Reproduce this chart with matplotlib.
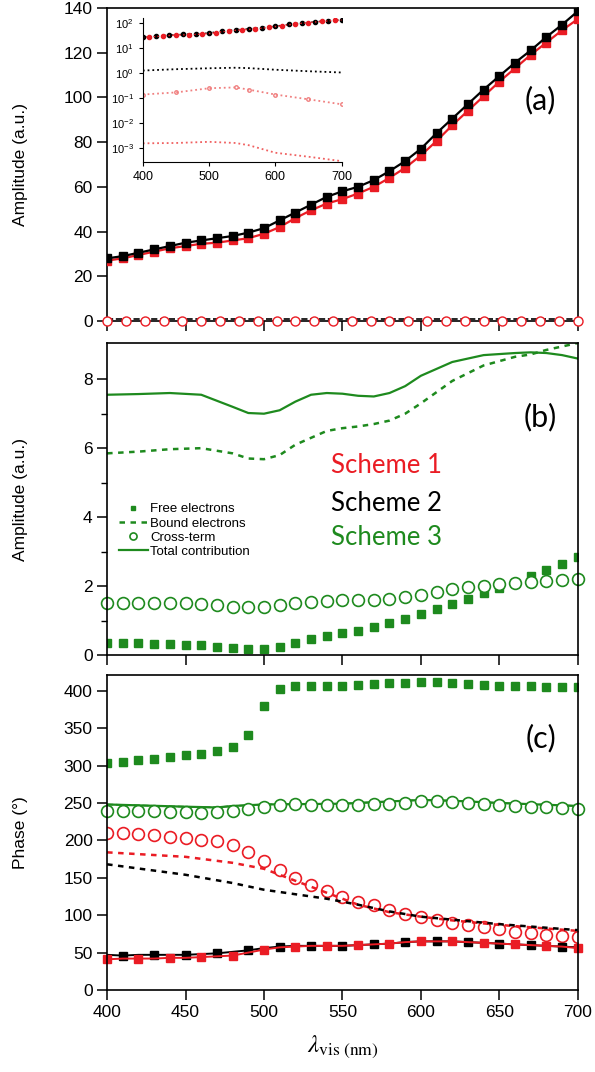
import matplotlib.pyplot as plt
import numpy as np

plt.rcParams['font.family'] = ['Liberation Sans', 'DejaVu Sans']
plt.rcParams['mathtext.fontset'] = 'stix'

RED = '#ea1c24'
GREEN = '#1e8a1e'

wl = np.arange(400, 701, 10)

# ---- panel (a): amplitudes, schemes 1 and 2
amp_s2_total = [28, 29, 30.5, 32, 33.5, 35, 36, 37, 38, 39.5, 41.5, 45, 48.5, 52, 55.5, 58,
                60, 63, 67, 71.5, 77, 84, 90.5, 97, 103.5, 109.5, 115.5, 121, 127, 132.5, 138.5]
amp_s1_total = [27, 28, 29.5, 31, 32.5, 33.5, 34.5, 35, 36, 37, 39, 42, 46, 49.5, 52.5, 54.5,
                57, 60, 64, 68.5, 74, 80.5, 87.5, 94, 100.5, 107, 113, 119, 124.5, 130, 135]
wl_low = [400, 412, 424, 436, 448, 460, 472, 484, 496, 508, 520, 532, 544, 556, 568, 580, 592,
          604, 616, 628, 640, 652, 664, 676, 688, 700]
amp_s1_cross = [0.15] * 26

# inset (log)
ins_wl = [400, 450, 500, 540, 560, 600, 650, 700]
ins_s2_bound = [1.28, 1.45, 1.58, 1.66, 1.6, 1.38, 1.2, 1.07]
ins_s1_cross = [0.14, 0.17, 0.25, 0.27, 0.22, 0.14, 0.09, 0.057]
ins_s1_bound = [1.55e-3, 1.6e-3, 1.78e-3, 1.6e-3, 1.3e-3, 6.5e-4, 4.5e-4, 3e-4]

# ---- panel (b): scheme 3 amplitudes
b_wl = [400, 420, 440, 460, 480, 490, 500, 510, 520, 530, 540, 550, 560, 570, 580, 590, 600,
        620, 640, 660, 670, 680, 690, 700]
amp_s3_total = [7.55, 7.57, 7.6, 7.55, 7.2, 7.02, 7.0, 7.1, 7.35, 7.55, 7.6, 7.58, 7.52, 7.5,
                7.6, 7.8, 8.1, 8.5, 8.7, 8.76, 8.78, 8.76, 8.7, 8.6]
amp_s3_bound = [5.85, 5.9, 5.97, 6.0, 5.85, 5.7, 5.68, 5.8, 6.1, 6.3, 6.5, 6.58, 6.63, 6.7,
                6.8, 7.0, 7.3, 7.95, 8.4, 8.65, 8.72, 8.85, 8.95, 9.05]
amp_s3_free = [0.34, 0.34, 0.34, 0.33, 0.32, 0.3, 0.28, 0.24, 0.2, 0.16, 0.16, 0.24, 0.34, 0.45,
               0.56, 0.63, 0.71, 0.82, 0.94, 1.05, 1.19, 1.32, 1.47, 1.63, 1.79, 1.95, 2.1, 2.3,
               2.47, 2.64, 2.83]
amp_s3_cross = [1.52, 1.52, 1.52, 1.52, 1.5, 1.5, 1.48, 1.45, 1.4, 1.38, 1.38, 1.45, 1.5, 1.55,
                1.58, 1.6, 1.6, 1.6, 1.62, 1.67, 1.75, 1.82, 1.9, 1.96, 2.0, 2.05, 2.1, 2.13,
                2.16, 2.18, 2.2]

# ---- panel (c): phases
ph_s3_free = [303, 305, 307, 309, 312, 314, 316, 319, 325, 341, 380, 402, 406, 407, 407, 407,
              408, 409, 410, 411, 412, 412, 410, 409, 408, 407, 407, 406, 405, 405, 405]
c_wl = [400, 450, 470, 480, 500, 550, 600, 620, 650, 700]
ph_s3_total = [248, 245, 244, 246, 248, 249, 254, 253, 250, 246]
ph_s3_cross = [239, 239, 239, 239, 238, 238, 237, 238, 239, 242, 245, 247, 248, 247, 247, 247,
               247, 248, 249, 250, 252, 252, 251, 250, 248, 247, 246, 245, 244, 243, 242]
ph_s1_cross = [210, 210, 208, 207, 205, 203, 201, 199, 194, 185, 173, 160, 150, 140, 132, 124,
               118, 113, 107, 102, 98, 94, 90, 87, 84, 81, 78, 76, 74, 72, 71]
bnd_wl = [400, 450, 480, 500, 520, 540, 560, 580, 600, 620, 650, 700]
ph_s1_bound = [184, 178, 170, 162, 146, 130, 114, 104, 98, 93, 87, 79]
ph_s2_bound = [168, 154, 143, 134, 128, 122, 114, 105, 98, 94, 88, 80]
ph_s2_free = [47, 46, 47, 47, 47, 47, 48, 49, 51, 53, 56, 58, 59, 59, 59, 59, 60, 61, 62, 64,
              65, 65, 65, 64, 63, 62, 61, 60, 59, 58, 57]
ph_s1_free = [41, 42, 42, 42, 43, 43, 44, 45, 46, 50, 54, 57, 58, 59, 59, 59, 60, 61, 62, 64,
              65, 65, 65, 64, 63, 62, 61, 60, 59, 58, 56]

fig = plt.figure(figsize=(5.95, 10.72), dpi=100)
L, W = 0.180, 0.791
ax1 = fig.add_axes([L, 0.7006, W, 0.292])
ax2 = fig.add_axes([L, 0.389, W, 0.291])
ax3 = fig.add_axes([L, 0.0765, W, 0.2938])

for ax in (ax1, ax2, ax3):
    ax.set_xlim(400, 700)
    ax.set_xticks(np.arange(400, 701, 50))
    ax.tick_params(direction='out', length=7, width=1.1, labelsize=12.5)
    for s in ax.spines.values():
        s.set_linewidth(1.2)
    ax.yaxis.set_label_coords(-0.168, 0.5)

panel_font = ['Lato', 'DejaVu Sans']

# (a)
ax1.plot(wl, amp_s2_total, '-s', color='black', ms=6, lw=1.6, zorder=4)
ax1.plot(wl, amp_s1_total, '-s', color=RED, ms=6, lw=1.6, zorder=3)
ax1.plot(wl_low, amp_s1_cross, 'o', mfc='white', mec=RED, ms=6.5, mew=1, clip_on=False, zorder=5)
ax1.plot(wl, [1.0] * len(wl), '--', color='black', lw=1.2, clip_on=False)
ax1.set_ylim(0, 140)
ax1.set_yticks(np.arange(0, 141, 20))
ax1.set_xticklabels([])
ax1.set_ylabel('Amplitude (a.u.)', fontsize=12.5)
ax1.text(0.921, 0.706, '(a)', transform=ax1.transAxes, fontsize=22, family=panel_font,
         ha='center', va='center')

# inset
axi = fig.add_axes([0.240, 0.849, 0.334, 0.134])
axi.set_yscale('log')
axi.plot(wl, amp_s2_total, ':', color='black', lw=1, marker='o', ms=3, markevery=(0, 2))
axi.plot(wl, amp_s1_total, ':', color=RED, lw=1, marker='o', ms=3, markevery=(1, 2))
axi.plot(ins_wl, ins_s2_bound, ':', color='black', lw=1.3)
axi.plot(ins_wl, ins_s1_cross, ':', color='#f08080', lw=1.3, marker='o', ms=2.5, mfc='none')
axi.plot(ins_wl, ins_s1_bound, ':', color='#f06060', lw=1.3)
axi.set_xlim(400, 700)
axi.set_ylim(2.8e-4, 160)
axi.set_xticks([400, 500, 600, 700])
axi.set_yticks([1e-3, 1e-2, 1e-1, 1, 10, 100])
axi.spines['top'].set_visible(False)
axi.spines['right'].set_visible(False)
axi.tick_params(direction='out', length=3, labelsize=9)
axi.tick_params(axis='y', labelsize=8)
axi.minorticks_off()

# (b)
ax2.plot(wl, amp_s3_free, 's', color=GREEN, ms=5.5, lw=0, label='Free electrons')
ax2.plot(b_wl, amp_s3_bound, '--', color=GREEN, lw=1.8, dashes=(2.2, 2.2),
         label='Bound electrons')
ax2.plot(wl, amp_s3_cross, 'o', mfc='white', mec=GREEN, ms=8.5, mew=1.2, label='Cross-term',
         clip_on=False)
ax2.plot(b_wl, amp_s3_total, '-', color=GREEN, lw=1.6, label='Total contribution')
ax2.set_ylim(0, 9.05)
ax2.set_yticks([0, 2, 4, 6, 8])
ax2.set_yticks([1, 3, 5, 7], minor=True)
ax2.tick_params(which='minor', direction='out', length=4, width=1)
ax2.set_xticklabels([])
ax2.set_ylabel('Amplitude (a.u.)', fontsize=12.5)
ax2.legend(loc='upper left', bbox_to_anchor=(0.0, 0.525), frameon=False, fontsize=9.5,
           handlelength=2.2, handletextpad=0.15, labelspacing=0.15, markerscale=0.6)
ax2.text(0.921, 0.763, '(b)', transform=ax2.transAxes, fontsize=22, family=panel_font,
         ha='center', va='center')
for lbl, col, yy in [('Scheme 1', RED, 0.606), ('Scheme 2', 'black', 0.487),
                     ('Scheme 3', GREEN, 0.378)]:
    ax2.text(0.594, yy, lbl, color=col, fontsize=18.5, family=panel_font,
             transform=ax2.transAxes, ha='center', va='center')

# (c)
ax3.plot(wl, ph_s3_free, 's', color=GREEN, ms=6)
ax3.plot(c_wl, ph_s3_total, '-', color=GREEN, lw=1.6)
ax3.plot(c_wl, ph_s3_total, '--', color=GREEN, lw=1.2)
ax3.plot(wl, ph_s3_cross, 'o', mfc='white', mec=GREEN, ms=8.5, mew=1.2, clip_on=False)
ax3.plot(wl, ph_s1_cross, 'o', mfc='white', mec=RED, ms=8.5, mew=1.2)
ax3.plot(bnd_wl, ph_s1_bound, '--', color=RED, lw=1.8, dashes=(2.2, 2.2))
ax3.plot(bnd_wl, ph_s2_bound, '--', color='black', lw=1.8, dashes=(2.2, 2.2))
ax3.plot(wl, ph_s2_free, '-s', color='black', ms=6, lw=1.4, markevery=(1, 2))
ax3.plot(wl, ph_s1_free, '-s', color=RED, ms=6, lw=1.4, markevery=(0, 2), clip_on=False)
ax3.set_ylim(0, 421)
ax3.set_yticks(np.arange(0, 401, 50))
ax3.set_ylabel('Phase (°)', fontsize=12.5)
ax3.set_xlabel(r'$\lambda_{\mathrm{vis\ (nm)}}$', fontsize=18, labelpad=10)
ax3.text(0.921, 0.80, '(c)', transform=ax3.transAxes, fontsize=22, family=panel_font,
         ha='center', va='center')

fig.savefig('out.png', dpi=100)
